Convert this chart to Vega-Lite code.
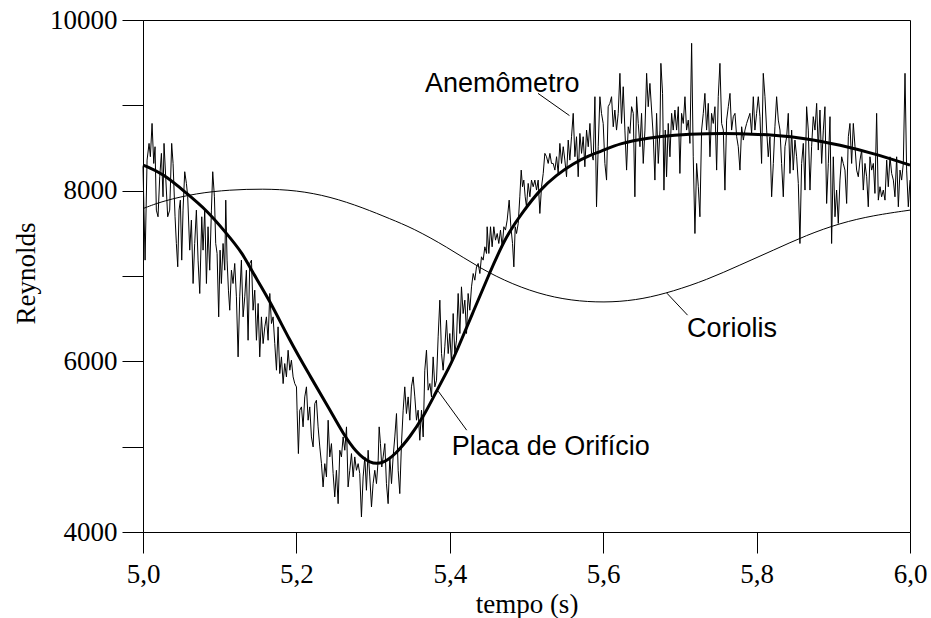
{
  "$schema": "https://vega.github.io/schema/vega-lite/v6.json",
  "width": 767,
  "height": 512,
  "autosize": {"type": "none"},
  "padding": {"left": 143, "top": 20, "right": 21, "bottom": 86},
  "background": "white",
  "config": {
    "view": {"stroke": "black", "strokeWidth": 1},
    "axis": {
      "domainColor": "black", "domainWidth": 1, "tickColor": "black", "tickWidth": 1, "tickSize": 21,
      "labelFont": "Liberation Serif", "labelFontSize": 27, "labelColor": "black",
      "titleFont": "Liberation Serif", "titleFontSize": 27, "titleFontWeight": "normal", "titleColor": "black",
      "grid": false, "labelFlush": false, "labelOverlap": false, "labelBound": false
    }
  },
  "datasets": {
    "anem": [
      {"t":5.0000,"re":8280},{"t":5.0027,"re":7186},{"t":5.0053,"re":8358},{"t":5.0079,"re":8554},{"t":5.0096,"re":8398},{"t":5.0118,"re":8788},{"t":5.0140,"re":8319},{"t":5.0157,"re":8515},{"t":5.0174,"re":7772},{"t":5.0196,"re":7694},{"t":5.0218,"re":8163},{"t":5.0240,"re":8437},{"t":5.0261,"re":7928},{"t":5.0274,"re":8554},{"t":5.0296,"re":8163},{"t":5.0322,"re":7694},{"t":5.0348,"re":7772},{"t":5.0374,"re":8554},{"t":5.0392,"re":8319},{"t":5.0418,"re":7694},{"t":5.0435,"re":7381},{"t":5.0453,"re":7108},{"t":5.0470,"re":7772},{"t":5.0487,"re":7889},{"t":5.0505,"re":7186},{"t":5.0522,"re":7772},{"t":5.0544,"re":8222},{"t":5.0566,"re":8085},{"t":5.0583,"re":7928},{"t":5.0609,"re":7303},{"t":5.0631,"re":7655},{"t":5.0653,"re":6912},{"t":5.0674,"re":7381},{"t":5.0696,"re":7772},{"t":5.0718,"re":7186},{"t":5.0740,"re":6795},{"t":5.0766,"re":7694},{"t":5.0783,"re":7303},{"t":5.0805,"re":7772},{"t":5.0827,"re":6912},{"t":5.0848,"re":7577},{"t":5.0870,"re":7068},{"t":5.0892,"re":7772},{"t":5.0909,"re":8222},{"t":5.0931,"re":7928},{"t":5.0948,"re":7381},{"t":5.0966,"re":7264},{"t":5.0987,"re":6521},{"t":5.1005,"re":7303},{"t":5.1022,"re":6912},{"t":5.1044,"re":7381},{"t":5.1066,"re":7068},{"t":5.1079,"re":7889},{"t":5.1096,"re":7186},{"t":5.1114,"re":6834},{"t":5.1131,"re":6599},{"t":5.1153,"re":7068},{"t":5.1174,"re":6912},{"t":5.1196,"re":7147},{"t":5.1218,"re":6756},{"t":5.1240,"re":6052},{"t":5.1261,"re":6756},{"t":5.1283,"re":7186},{"t":5.1305,"re":6521},{"t":5.1327,"re":6756},{"t":5.1348,"re":7068},{"t":5.1370,"re":6247},{"t":5.1392,"re":7147},{"t":5.1414,"re":7186},{"t":5.1435,"re":6599},{"t":5.1457,"re":6834},{"t":5.1479,"re":6247},{"t":5.1501,"re":6678},{"t":5.1522,"re":6052},{"t":5.1544,"re":6521},{"t":5.1566,"re":6208},{"t":5.1588,"re":6404},{"t":5.1609,"re":6521},{"t":5.1631,"re":6247},{"t":5.1653,"re":6795},{"t":5.1675,"re":6443},{"t":5.1696,"re":6521},{"t":5.1718,"re":6208},{"t":5.1740,"re":5896},{"t":5.1761,"re":6404},{"t":5.1783,"re":5857},{"t":5.1805,"re":6052},{"t":5.1827,"re":5739},{"t":5.1848,"re":5974},{"t":5.1870,"re":5818},{"t":5.1892,"re":6130},{"t":5.1914,"re":5896},{"t":5.1935,"re":6013},{"t":5.1957,"re":5818},{"t":5.1979,"re":5739},{"t":5.2001,"re":5700},
      {"t":5.2009,"re":5427},{"t":5.2026,"re":4919},{"t":5.2044,"re":5427},{"t":5.2066,"re":5466},{"t":5.2087,"re":5232},{"t":5.2109,"re":5583},{"t":5.2131,"re":5701},{"t":5.2153,"re":5310},{"t":5.2174,"re":5466},{"t":5.2196,"re":5114},{"t":5.2218,"re":4997},{"t":5.2240,"re":5505},{"t":5.2261,"re":5544},{"t":5.2283,"re":5232},{"t":5.2305,"re":4997},{"t":5.2327,"re":4801},{"t":5.2348,"re":4528},{"t":5.2370,"re":4801},{"t":5.2392,"re":4645},{"t":5.2414,"re":5310},{"t":5.2435,"re":4880},{"t":5.2457,"re":5036},{"t":5.2479,"re":4684},{"t":5.2500,"re":4411},{"t":5.2522,"re":4723},{"t":5.2544,"re":4332},{"t":5.2566,"re":4958},{"t":5.2587,"re":4880},{"t":5.2609,"re":5114},{"t":5.2631,"re":4958},{"t":5.2653,"re":5232},{"t":5.2674,"re":4528},{"t":5.2696,"re":4723},{"t":5.2718,"re":4919},{"t":5.2740,"re":4645},{"t":5.2761,"re":4880},{"t":5.2783,"re":4723},{"t":5.2805,"re":4801},{"t":5.2826,"re":4684},{"t":5.2848,"re":4176},{"t":5.2870,"re":4645},{"t":5.2892,"re":4880},{"t":5.2913,"re":4489},{"t":5.2935,"re":4958},{"t":5.2957,"re":4645},{"t":5.2979,"re":4293},{"t":5.3000,"re":4567},{"t":5.3022,"re":4723},{"t":5.3044,"re":4567},{"t":5.3066,"re":4841},{"t":5.3079,"re":5232},{"t":5.3096,"re":5036},{"t":5.3113,"re":4762},{"t":5.3131,"re":4880},{"t":5.3153,"re":5036},{"t":5.3174,"re":4567},{"t":5.3196,"re":4332},{"t":5.3218,"re":4880},{"t":5.3240,"re":4567},{"t":5.3261,"re":4880},{"t":5.3283,"re":5114},{"t":5.3305,"re":5388},{"t":5.3327,"re":4723},{"t":5.3348,"re":4450},{"t":5.3370,"re":5036},{"t":5.3392,"re":5427},{"t":5.3413,"re":5701},{"t":5.3435,"re":5388},{"t":5.3457,"re":5583},{"t":5.3479,"re":5310},{"t":5.3500,"re":5701},{"t":5.3522,"re":5818},{"t":5.3544,"re":5583},{"t":5.3566,"re":5310},{"t":5.3587,"re":5427},{"t":5.3609,"re":5075},{"t":5.3631,"re":5427},{"t":5.3653,"re":5114},{"t":5.3674,"re":5896},{"t":5.3696,"re":6131},{"t":5.3718,"re":5662},{"t":5.3740,"re":5740},{"t":5.3761,"re":5583},{"t":5.3783,"re":6052},{"t":5.3805,"re":5701},{"t":5.3827,"re":5779},{"t":5.3848,"re":6287},{"t":5.3870,"re":6717},{"t":5.3892,"re":6091},{"t":5.3913,"re":5896},{"t":5.3935,"re":6170},{"t":5.3957,"re":6482},{"t":5.3979,"re":6091},
      {"t":5.4000,"re":6326},{"t":5.4022,"re":5974},{"t":5.4044,"re":6560},{"t":5.4065,"re":6091},{"t":5.4087,"re":6248},{"t":5.4109,"re":6795},{"t":5.4131,"re":6326},{"t":5.4152,"re":6873},{"t":5.4174,"re":6560},{"t":5.4196,"re":6717},{"t":5.4218,"re":6326},{"t":5.4239,"re":6795},{"t":5.4261,"re":6599},{"t":5.4283,"re":6873},{"t":5.4305,"re":7029},{"t":5.4326,"re":6951},{"t":5.4348,"re":7107},{"t":5.4370,"re":7147},{"t":5.4392,"re":7029},{"t":5.4413,"re":7225},{"t":5.4435,"re":7186},{"t":5.4457,"re":7342},{"t":5.4479,"re":7264},{"t":5.4487,"re":7577},{"t":5.4509,"re":7264},{"t":5.4531,"re":7577},{"t":5.4552,"re":7342},{"t":5.4574,"re":7577},{"t":5.4596,"re":7420},{"t":5.4618,"re":7498},{"t":5.4639,"re":7381},{"t":5.4661,"re":7538},{"t":5.4683,"re":7342},{"t":5.4705,"re":7577},{"t":5.4726,"re":7538},{"t":5.4748,"re":7655},{"t":5.4774,"re":7889},{"t":5.4796,"re":7577},{"t":5.4818,"re":7381},{"t":5.4835,"re":7107},{"t":5.4853,"re":7577},{"t":5.4870,"re":7498},{"t":5.4892,"re":7616},{"t":5.4913,"re":7928},{"t":5.4931,"re":8241},{"t":5.4948,"re":8046},{"t":5.4965,"re":8124},{"t":5.4983,"re":7928},{"t":5.5000,"re":7811},{"t":5.5022,"re":8085},{"t":5.5044,"re":7928},{"t":5.5065,"re":8124},{"t":5.5087,"re":8046},{"t":5.5109,"re":8124},{"t":5.5131,"re":8007},{"t":5.5152,"re":8124},{"t":5.5174,"re":7733},{"t":5.5196,"re":8046},{"t":5.5218,"re":8202},{"t":5.5239,"re":8437},{"t":5.5261,"re":8398},{"t":5.5283,"re":8319},{"t":5.5305,"re":8437},{"t":5.5326,"re":8319},{"t":5.5348,"re":8319},{"t":5.5370,"re":8241},{"t":5.5392,"re":8398},{"t":5.5413,"re":8202},{"t":5.5435,"re":8554},{"t":5.5457,"re":8319},{"t":5.5479,"re":8515},{"t":5.5500,"re":8358},{"t":5.5522,"re":8163},{"t":5.5544,"re":8593},{"t":5.5565,"re":8358},{"t":5.5587,"re":8632},{"t":5.5609,"re":8906},{"t":5.5631,"re":8398},{"t":5.5652,"re":8632},{"t":5.5674,"re":8163},{"t":5.5696,"re":8671},{"t":5.5718,"re":8437},{"t":5.5739,"re":8632},{"t":5.5761,"re":8280},{"t":5.5783,"re":8710},{"t":5.5805,"re":8515},{"t":5.5827,"re":8788},{"t":5.5848,"re":8437},{"t":5.5870,"re":8358},{"t":5.5892,"re":9101},{"t":5.5913,"re":7811},{"t":5.5935,"re":8515},
      {"t":5.5957,"re":9101},{"t":5.5978,"re":8906},{"t":5.6000,"re":8788},{"t":5.6022,"re":8319},{"t":5.6044,"re":8124},{"t":5.6065,"re":8984},{"t":5.6087,"re":9023},{"t":5.6109,"re":9101},{"t":5.6131,"re":8749},{"t":5.6152,"re":8945},{"t":5.6174,"re":8710},{"t":5.6196,"re":8906},{"t":5.6218,"re":9375},{"t":5.6239,"re":8788},{"t":5.6261,"re":9218},{"t":5.6283,"re":8710},{"t":5.6305,"re":8241},{"t":5.6326,"re":8749},{"t":5.6348,"re":8671},{"t":5.6370,"re":8984},{"t":5.6392,"re":8906},{"t":5.6413,"re":7928},{"t":5.6435,"re":9101},{"t":5.6457,"re":8788},{"t":5.6479,"re":8515},{"t":5.6500,"re":8906},{"t":5.6522,"re":8319},{"t":5.6544,"re":8710},{"t":5.6566,"re":9375},{"t":5.6587,"re":8984},{"t":5.6609,"re":9257},{"t":5.6631,"re":8945},{"t":5.6653,"re":8632},{"t":5.6674,"re":8124},{"t":5.6696,"re":8906},{"t":5.6718,"re":8319},{"t":5.6740,"re":8710},{"t":5.6752,"re":9492},{"t":5.6774,"re":9140},{"t":5.6792,"re":8006},{"t":5.6809,"re":8710},{"t":5.6826,"re":8163},{"t":5.6848,"re":8788},{"t":5.6870,"re":8397},{"t":5.6892,"re":8906},{"t":5.6913,"re":8710},{"t":5.6935,"re":8945},{"t":5.6957,"re":8710},{"t":5.6979,"re":8984},{"t":5.7000,"re":8202},{"t":5.7022,"re":8906},{"t":5.7044,"re":8788},{"t":5.7066,"re":9101},{"t":5.7087,"re":8710},{"t":5.7109,"re":8827},{"t":5.7131,"re":8554},{"t":5.7153,"re":9727},{"t":5.7174,"re":8397},{"t":5.7196,"re":7498},{"t":5.7218,"re":8319},{"t":5.7240,"re":8046},{"t":5.7261,"re":7694},{"t":5.7283,"re":8710},{"t":5.7305,"re":8906},{"t":5.7326,"re":9140},{"t":5.7348,"re":8710},{"t":5.7370,"re":9023},{"t":5.7392,"re":8397},{"t":5.7413,"re":8906},{"t":5.7435,"re":8788},{"t":5.7457,"re":8984},{"t":5.7479,"re":8241},{"t":5.7500,"re":9101},{"t":5.7522,"re":9492},{"t":5.7544,"re":8788},{"t":5.7566,"re":8710},{"t":5.7587,"re":8006},{"t":5.7609,"re":8827},{"t":5.7631,"re":8984},{"t":5.7653,"re":9140},{"t":5.7674,"re":8710},{"t":5.7696,"re":8867},{"t":5.7718,"re":8906},{"t":5.7740,"re":8632},{"t":5.7761,"re":8515},{"t":5.7783,"re":8241},{"t":5.7805,"re":8749},{"t":5.7827,"re":8593},{"t":5.7848,"re":8710},{"t":5.7870,"re":8788},
      {"t":5.7913,"re":8906},{"t":5.7935,"re":8671},{"t":5.7957,"re":9101},{"t":5.7978,"re":8710},{"t":5.8000,"re":8906},{"t":5.8022,"re":9101},{"t":5.8044,"re":8867},{"t":5.8065,"re":8319},{"t":5.8087,"re":9375},{"t":5.8109,"re":9101},{"t":5.8131,"re":8710},{"t":5.8152,"re":8397},{"t":5.8174,"re":8632},{"t":5.8196,"re":7928},{"t":5.8218,"re":8319},{"t":5.8239,"re":8749},{"t":5.8261,"re":9101},{"t":5.8283,"re":8827},{"t":5.8305,"re":8710},{"t":5.8326,"re":8319},{"t":5.8348,"re":7928},{"t":5.8370,"re":8515},{"t":5.8392,"re":8632},{"t":5.8413,"re":8906},{"t":5.8435,"re":8202},{"t":5.8457,"re":8710},{"t":5.8478,"re":8241},{"t":5.8500,"re":8593},{"t":5.8522,"re":8397},{"t":5.8544,"re":8085},{"t":5.8565,"re":7381},{"t":5.8587,"re":8319},{"t":5.8609,"re":8554},{"t":5.8631,"re":8007},{"t":5.8652,"re":8984},{"t":5.8674,"re":8710},{"t":5.8696,"re":8007},{"t":5.8717,"re":8515},{"t":5.8739,"re":8867},{"t":5.8761,"re":8710},{"t":5.8783,"re":9023},{"t":5.8804,"re":8476},{"t":5.8826,"re":8945},{"t":5.8848,"re":8319},{"t":5.8870,"re":8710},{"t":5.8891,"re":8984},{"t":5.8913,"re":7850},{"t":5.8935,"re":8319},{"t":5.8957,"re":8867},{"t":5.8978,"re":7381},{"t":5.9000,"re":8397},{"t":5.9022,"re":7694},{"t":5.9043,"re":8007},{"t":5.9065,"re":7616},{"t":5.9087,"re":8124},{"t":5.9109,"re":8397},{"t":5.9130,"re":8319},{"t":5.9152,"re":8241},{"t":5.9174,"re":7850},{"t":5.9196,"re":8632},{"t":5.9217,"re":8788},{"t":5.9239,"re":8319},{"t":5.9261,"re":8788},{"t":5.9283,"re":8515},{"t":5.9304,"re":8241},{"t":5.9326,"re":8163},{"t":5.9348,"re":8358},{"t":5.9370,"re":8476},{"t":5.9391,"re":8007},{"t":5.9413,"re":8319},{"t":5.9435,"re":8163},{"t":5.9456,"re":7811},{"t":5.9478,"re":8397},{"t":5.9500,"re":8241},{"t":5.9522,"re":8319},{"t":5.9543,"re":7968},{"t":5.9565,"re":8906},{"t":5.9587,"re":7889},{"t":5.9609,"re":8046},{"t":5.9630,"re":7928},{"t":5.9652,"re":8007},{"t":5.9674,"re":7889},{"t":5.9696,"re":8358},{"t":5.9717,"re":8046},{"t":5.9739,"re":8397},{"t":5.9761,"re":8202},{"t":5.9783,"re":8124},{"t":5.9804,"re":7928},{"t":5.9826,"re":8397},{"t":5.9848,"re":7811},{"t":5.9870,"re":8241},{"t":5.9891,"re":8124},{"t":5.9913,"re":8319},{"t":5.9935,"re":9375},{"t":5.9956,"re":8241},{"t":5.9978,"re":7811},{"t":6.0000,"re":8124}
    ],
    "cor": [
      {"t":5.000,"re":7790},{"t":5.026,"re":7880},{"t":5.070,"re":7970},{"t":5.113,"re":8010},{"t":5.156,"re":8022},{"t":5.200,"re":8005},{"t":5.244,"re":7930},{"t":5.287,"re":7800},{"t":5.322,"re":7670},{"t":5.352,"re":7560},{"t":5.396,"re":7342},{"t":5.439,"re":7092},{"t":5.482,"re":6900},{"t":5.526,"re":6765},{"t":5.569,"re":6700},{"t":5.612,"re":6690},{"t":5.652,"re":6730},{"t":5.691,"re":6820},{"t":5.735,"re":6955},{"t":5.778,"re":7127},{"t":5.822,"re":7303},{"t":5.865,"re":7479},{"t":5.909,"re":7620},{"t":5.952,"re":7710},{"t":6.000,"re":7772}
    ],
    "placa": [
      {"t":5.000,"re":8300},{"t":5.026,"re":8202},{"t":5.057,"re":7968},{"t":5.083,"re":7772},{"t":5.109,"re":7499},{"t":5.130,"re":7265},{"t":5.141,"re":7069},{"t":5.165,"re":6717},{"t":5.191,"re":6248},{"t":5.217,"re":5840},{"t":5.244,"re":5427},{"t":5.261,"re":5150},{"t":5.278,"re":4930},{"t":5.296,"re":4800},{"t":5.313,"re":4800},{"t":5.330,"re":4920},{"t":5.348,"re":5114},{"t":5.365,"re":5340},{"t":5.382,"re":5640},{"t":5.400,"re":5940},{"t":5.409,"re":6120},{"t":5.431,"re":6590},{"t":5.452,"re":7040},{"t":5.474,"re":7480},{"t":5.496,"re":7760},{"t":5.517,"re":8006},{"t":5.539,"re":8183},{"t":5.561,"re":8320},{"t":5.583,"re":8417},{"t":5.596,"re":8456},{"t":5.622,"re":8558},{"t":5.660,"re":8620},{"t":5.691,"re":8652},{"t":5.735,"re":8670},{"t":5.778,"re":8670},{"t":5.822,"re":8652},{"t":5.865,"re":8613},{"t":5.909,"re":8535},{"t":5.952,"re":8437},{"t":6.000,"re":8300}
    ],
    "labels": [
      {"t":5.3677,"re":9159,"txt":"Anemômetro"},
      {"t":5.4026,"re":4899,"txt":"Placa de Orifício"},
      {"t":5.7091,"re":6283,"txt":"Coriolis"}
    ],
    "leaders": [
      {"t":5.515,"re":9140,"t2":5.556,"re2":8880},
      {"t":5.385,"re":5650,"t2":5.422,"re2":5193},
      {"t":5.683,"re":6799,"t2":5.710,"re2":6541}
    ]
  },
  "encoding": {
    "x": {
      "field": "t", "type": "quantitative",
      "scale": {"domain": [5, 6], "nice": false, "zero": false},
      "axis": {
        "values": [5, 5.2, 5.4, 5.6, 5.8, 6],
        "labelExpr": "replace(format(datum.value, '.1f'), '.', ',')",
        "labelPadding": 8,
        "title": "tempo (s)", "titleBaseline": "alphabetic", "titleY": 80, "titleX": 383.5, "titleAlign": "center"
      }
    },
    "y": {
      "field": "re", "type": "quantitative",
      "scale": {"domain": [4000, 10000], "nice": false, "zero": false},
      "axis": {
        "values": [4000, 5000, 6000, 7000, 8000, 9000, 10000],
        "labelExpr": "datum.value % 2000 == 0 ? format(datum.value, 'd') : ''",
        "labelPadding": 5,
        "title": "Reynolds", "titleAngle": -90, "titleBaseline": "alphabetic", "titleAlign": "center", "titleX": -109, "titleY": 253
      }
    }
  },
  "layer": [
    {"data": {"name": "anem"}, "mark": {"type": "line", "color": "black", "strokeWidth": 1}, "encoding": {}},
    {"data": {"name": "cor"}, "mark": {"type": "line", "color": "black", "strokeWidth": 1, "interpolate": "basis"}, "encoding": {}},
    {"data": {"name": "placa"}, "mark": {"type": "line", "color": "black", "strokeWidth": 3, "interpolate": "basis"}, "encoding": {}},
    {"data": {"name": "leaders"}, "mark": {"type": "rule", "color": "black", "strokeWidth": 1}, "encoding": {"x2": {"field": "t2"}, "y2": {"field": "re2"}}},
    {"data": {"name": "labels"}, "mark": {"type": "text", "align": "left", "baseline": "alphabetic", "font": "Liberation Sans", "fontSize": 27, "color": "black"}, "encoding": {"text": {"field": "txt"}}}
  ]
}
